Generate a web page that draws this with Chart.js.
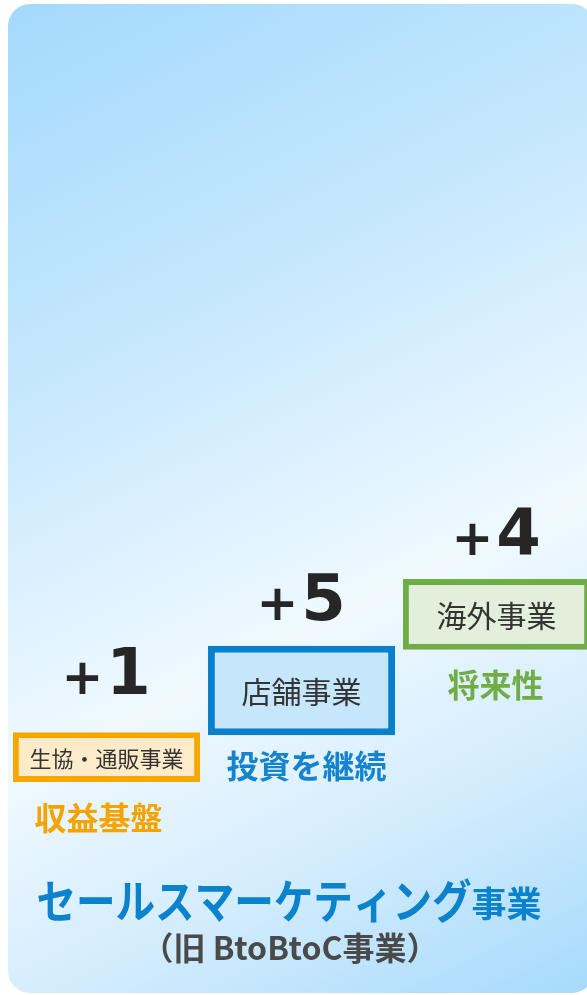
<!DOCTYPE html>
<html lang="ja">
<head>
<meta charset="utf-8">
<title>セールスマーケティング事業</title>
<script src="https://cdn.jsdelivr.net/npm/chart.js@4.4.1/dist/chart.umd.min.js"></script>
<style>
    html, body { margin: 0; padding: 0; background: #fff; overflow: hidden; }
    #wrap { width: 587px; height: 995px; overflow: hidden; }
</style>
</head>
<body>
<div id="wrap"><canvas id="myChart" width="596" height="995"></canvas></div>
<script>
// Dati: segmenti, crescita, ruolo
const segments = ['生協・通販事業', '店舗事業', '海外事業'];
const growth = [1, 5, 4];
const roles = ['収益基盤', '投資を継続', '将来性'];
// Gradini (livello basso / alto del box)
const stepBase = [21.4, 26.1, 34.7];
const stepTop = [26.4, 35.1, 41.8];
const titleMain = 'セールスマーケティング';
const titleTail = '事業';
const subTitle = '（旧 BtoBtoC事業）';

// stili
const borderColors = ['#f6a800', '#0a7fcb', '#70ad47'];
const fillColors = ['#fdebc9', '#c5e6fb', '#e2efda'];
const roleColors = ['#f5a300', '#1683cf', '#70ad47'];
const borderWidths = [6, 7, 6];
const labelSizes = [22, 30, 30];
const valueGap = [38, 26, 24];
const roleGap = [36, 31, 35];
const roleShift = [-8, 5, -1];

const JP = '"Noto Sans CJK JP", "Noto Sans", sans-serif';

// Sfondo pannello arrotondato con gradiente
const panelBg = {
    id: 'panelBg',
    beforeDraw: function(chart) {
        const ctx = chart.ctx;
        const g = ctx.createLinearGradient(8, 4, 511, 1031);
        g.addColorStop(0, '#a4d9fd');
        g.addColorStop(0.3, '#c4e7fd');
        g.addColorStop(0.61, '#f0f9ff');
        g.addColorStop(0.8, '#d2ecfd');
        g.addColorStop(1, '#a6dafc');
        ctx.save();
        ctx.beginPath();
        ctx.roundRect(8, 4, 586, 989, 22);
        ctx.fillStyle = g;
        ctx.fill();
        ctx.restore();
    }
};

// Testi sui box + titolo
const stepLabels = {
    id: 'stepLabels',
    afterDatasetsDraw: function(chart) {
        const ctx = chart.ctx;
        const bars = chart.getDatasetMeta(0).data;
        ctx.save();
        ctx.textAlign = 'center';
        bars.forEach(function(bar, i) {
            const p = bar.getProps(['x', 'y', 'base'], true);
            const top = Math.min(p.y, p.base);
            const bottom = Math.max(p.y, p.base);

            // nome segmento
            ctx.textBaseline = 'middle';
            ctx.fillStyle = '#333';
            ctx.font = labelSizes[i] + 'px ' + JP;
            ctx.fillText(segments[i], p.x, (top + bottom) / 2 + 1);

            // ruolo sotto
            ctx.fillStyle = roleColors[i];
            ctx.font = 'bold 32px ' + JP;
            ctx.fillText(roles[i], p.x + roleShift[i], bottom + roleGap[i]);

            // valore sopra
            ctx.textBaseline = 'alphabetic';
            ctx.fillStyle = '#262626';
            ctx.font = 'bold 50px "DejaVu Sans"';
            ctx.fillText('+', p.x - 24, top - valueGap[i]);
            ctx.font = 'bold 64px "DejaVu Sans"';
            ctx.fillText(String(growth[i]), p.x + 22, top - valueGap[i]);
        });

        // titolo
        ctx.textBaseline = 'middle';
        ctx.textAlign = 'left';
        const sx = 0.86;
        ctx.font = 'bold 46px ' + JP;
        const wMain = ctx.measureText(titleMain).width * sx;
        ctx.font = 'bold 35px ' + JP;
        const wTail = ctx.measureText(titleTail).width;
        const startX = 289 - (wMain + wTail) / 2;
        ctx.fillStyle = '#0a82cc';
        ctx.save();
        ctx.translate(startX, 901);
        ctx.scale(sx, 1);
        ctx.font = 'bold 46px ' + JP;
        ctx.fillText(titleMain, 0, 0);
        ctx.restore();
        ctx.font = 'bold 35px ' + JP;
        ctx.fillText(titleTail, startX + wMain, 904);

        ctx.textAlign = 'center';
        ctx.fillStyle = '#4a4a4a';
        ctx.font = 'bold 32px ' + JP;
        ctx.fillText(subTitle, 290, 948);
        ctx.restore();
    }
};

let ctx = document.getElementById('myChart');
let myChart = new Chart(ctx, {
    type: 'bar',
    data: {
        labels: segments,
        datasets: [{
            data: segments.map(function(s, i) { return [stepBase[i], stepTop[i]]; }),
            backgroundColor: fillColors,
            borderColor: borderColors,
            borderWidth: borderWidths,
            borderSkipped: false,
            barPercentage: 0.96,
            categoryPercentage: 1
        }]
    },
    options: {
        responsive: false,
        animation: false,
        layout: { padding: { left: 9, right: 2, top: 0, bottom: 0 } },
        plugins: {
            legend: { display: false },
            tooltip: { enabled: false }
        },
        scales: {
            x: { display: false },
            y: { display: false, min: 0, max: 100 }
        }
    },
    plugins: [panelBg, stepLabels]
});
</script>
</body>
</html>
